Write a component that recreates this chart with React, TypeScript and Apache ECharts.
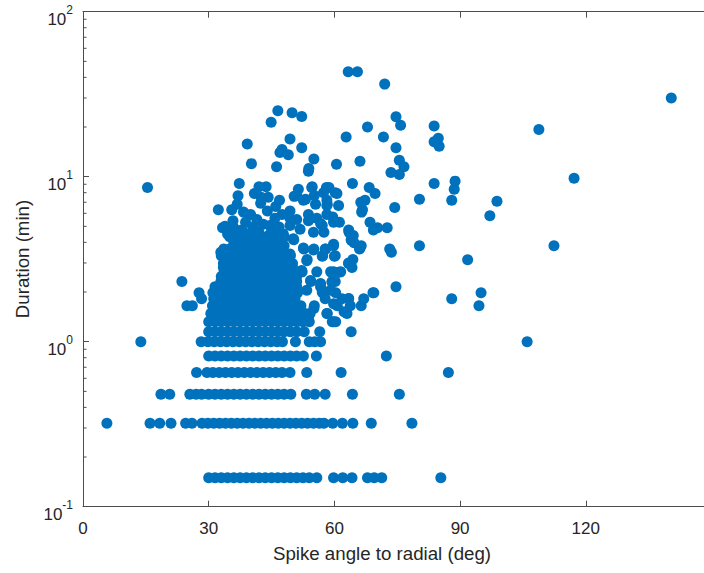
import React, { useEffect, useRef } from "react";
import * as echarts from "echarts";

const FONT = '"Liberation Sans", Helvetica, Arial, sans-serif';
const INK = "#262626";
const AXIS = "#4d4d4d";
const MARKER = "#0072BD";

// Axis ranges
const xRange = [0, 150];
const xStep = 30;
const yRange = [0.1, 100];
const yDecades = [0.1, 1, 10];
const minorSteps = [2, 3, 4, 5, 6, 7, 8, 9];

// Durations are logged in 10 s steps, so short events stack on fixed rows (min).
const rowDurations = [
  0.15, 0.32, 0.48, 0.65, 0.82, 1.0, 1.15, 1.32, 1.48, 1.65, 1.82, 1.98, 2.15,
  2.32, 2.48, 2.65, 2.82, 2.98, 3.15, 3.32, 3.48, 3.65, 3.82, 3.98, 4.15, 4.32,
];

// Spike angles (deg) of the events on each duration row.
const rowAngles: number[][] = [
  [30, 31.5, 33, 34.5, 36, 37.5, 39, 40.5, 42, 43.5, 45, 46.5, 48, 49.5, 51, 52.5, 54, 55.8, 59.8, 62, 64.2, 67.9, 69.5, 71.3, 85.4],
  [5.7, 16, 18.3, 21, 24.5, 26, 28.4, 29.8, 31.2, 32.6, 34, 35.4, 36.8, 38.2, 39.6, 41, 42.4, 43.8, 45.2, 46.6, 48, 49.4, 50.8, 52.2, 53.6, 55, 56.4, 57.5, 59.6, 61.9, 64.4, 68.8, 78.5],
  [18.6, 20.7, 25.5, 27, 28.3, 30, 31.5, 33, 34.5, 36, 37.5, 39, 40.5, 42, 43.5, 45, 46.5, 48, 49.6, 53.3, 55.3, 57.8, 64.3, 75.5],
  [27.1, 29.6, 31, 32.5, 34, 35.5, 37, 38.5, 40, 41.5, 43, 44.5, 46, 47.5, 49.4, 53.4, 61.6, 87.2],
  [30, 31.5, 33, 34.5, 36, 37.5, 39, 40.5, 42, 43.5, 45, 46.5, 48, 49.5, 51, 52.6, 55.7, 72.4],
  [13.8, 28.2, 29.8, 31.3, 32.8, 34.3, 35.8, 37.3, 38.8, 40.3, 41.8, 43.3, 44.8, 46.3, 47.6, 50.7, 54, 55.3, 56.7, 106],
  [30, 31.5, 33, 34.5, 36, 37.5, 39, 40.5, 42, 43.5, 45, 46.5, 48, 49.5, 51, 52.8, 56.5, 64],
  [30, 31.5, 33, 34.5, 36, 37.5, 39, 40.5, 42, 43.5, 45, 46.5, 48, 49.5, 51, 52.5, 54, 59.5, 60.3],
  [30.5, 32, 33.5, 35, 36.5, 38, 39.5, 41, 42.5, 44, 45.5, 47, 48.5, 50, 51.5, 53, 54.2, 58.2, 63],
  [24.8, 26.1, 30.9, 32.4, 33.9, 35.4, 36.9, 38.4, 39.9, 41.4, 42.9, 44.4, 45.9, 47.4, 48.8, 50.4, 52, 55.2, 60.7, 63.8, 66.4, 94.5],
  [28.3, 31.2, 32.7, 34.2, 35.7, 37.2, 38.7, 40.2, 41.7, 43.2, 44.7, 46.2, 47.7, 49.2, 50.6, 57.8, 61.8, 63.4, 67, 88],
  [27.7, 31, 32.5, 34, 35.5, 37, 38.5, 40, 41.5, 43, 44.5, 46, 47.5, 49.6, 51.2, 57.2, 60.3, 69.2, 95],
  [31.5, 33, 34.5, 36, 37.5, 39, 40.5, 42, 43.5, 45, 46.5, 48, 49.5, 51, 56.7, 74.7],
  [23.6, 32.9, 34.4, 35.9, 37.4, 38.9, 40.4, 41.9, 43.4, 44.9, 46.4, 48, 49.5, 51, 54.4, 59.5, 60.2],
  [33, 34.5, 36, 37.5, 39, 40.5, 42, 43.5, 45, 46.5, 48, 49.5, 51],
  [33.7, 35.2, 36.7, 38.2, 39.7, 41.2, 42.7, 44.2, 45.7, 47.2, 48.7, 50.2, 52.3, 55.8, 59.1, 59.8, 61.5],
  [33.5, 35, 36.5, 38, 39.5, 41, 42.5, 44, 45.5, 47, 48.5, 50, 64.2],
  [33.5, 35, 36.5, 38, 39.5, 41, 42.5, 44, 45.5, 47, 48.5, 50, 63.4],
  [34, 35.5, 37, 38.5, 40, 41.5, 43, 44.5, 46, 47.5, 49, 53.5, 64.4],
  [33, 34.5, 36, 37.5, 39, 40.5, 42, 43.5, 45, 46.5, 49.5, 57.2, 60.2],
  [32.9, 34.4, 35.9, 37.4, 38.9, 40.4, 41.9, 43.4, 44.9, 46.4, 47.9, 73.6],
  [33.6, 35, 36.5, 38, 39.5, 41, 42.5, 44, 45.5, 47, 52.7, 55.1, 57.9, 66, 73.2],
  [36, 37.5, 39, 40.5, 42, 43.5, 45, 46.5, 48, 59.8, 66.4, 80.3, 112.4],
  [36, 37.5, 39, 40.5, 42, 43.5, 45, 47, 64.7],
  [36, 38, 39.5, 41, 42.5, 44, 45.5, 47.5, 50.3, 64],
  [35, 36.5, 38, 39.5, 41, 42.5, 44, 46, 48],
];

// Longer events, [angle (deg), duration (min)].
const longEvents: [number, number][] = [
  [140.4, 30], [108.8, 19.3], [117.2, 9.8], [91.8, 3.14], [98.8, 7.1], [97.1, 5.8],
  [88, 7.2], [88.8, 9.4], [88.6, 8.4], [83.8, 9.1], [83.8, 20.3], [83.8, 16.3],
  [84.8, 17.1], [85, 15.3], [80.3, 7.3],
  [63.3, 43.2], [65.5, 43.2], [72, 36.4], [74.7, 23.1], [75.8, 20.5], [67.9, 20.0],
  [71.7, 17.4], [62.8, 17.4], [74.7, 15.0], [75.5, 12.6], [76.6, 11.5], [73.5, 10.6],
  [75.5, 10.3], [74.4, 6.5], [69.7, 7.9], [68.3, 8.6], [64.3, 9.1], [66.1, 12.4],
  [60.5, 11.9], [55.1, 12.8], [53.9, 11.2], [52.2, 23.2], [52.2, 15.0], [66.3, 7.0],
  [67.3, 7.2], [66.5, 6.1], [68.5, 5.3], [70.3, 4.9], [72.6, 4.9], [63.5, 4.6],
  [64.1, 4.1], [64.5, 4.4], [69.3, 4.75], [66.1, 3.7],
  [58.1, 8.6], [60.2, 8.0], [58.2, 6.7], [61, 6.7], [59.6, 5.7], [61.2, 5.3],
  [57.1, 5.06], [55.2, 7.7], [53.1, 7.3], [57.4, 8.0], [58.2, 7.2], [60.6, 7.9],
  [66.7, 6.3], [55.8, 5.6], [53.8, 5.9], [58.2, 5.9], [49.4, 5.6], [63.4, 4.75],
  [60, 3.3], [63.4, 3.0], [61, 2.64], [59.4, 2.3], [57.1, 2.0], [69.4, 1.98],
  [46.5, 25.1], [49.9, 24.4], [44.9, 21.4], [39.2, 15.8], [49.4, 16.9], [47.5, 14.6],
  [49, 13.6], [47, 14.0], [40.2, 12.0], [46.2, 11.5], [53.8, 10.8], [37.3, 9.1],
  [42, 8.7], [43.7, 8.7], [54.6, 8.6], [58.7, 8.6], [37, 7.67], [40.9, 7.9],
  [42.5, 7.5], [44.2, 7.5], [46.9, 7.2], [51, 7.67], [50.4, 7.6], [51.4, 8.4],
  [54.7, 8.7], [32.3, 6.3], [35.5, 6.3], [40, 5.9], [42.4, 6.9], [33.9, 5.0],
  [37.9, 4.75], [43, 5.15], [44.6, 5.06], [46.2, 4.75], [47.8, 4.5], [15.4, 8.6],
  [33.3, 4.9],
  [34.5, 4.5], [37, 4.55], [39.5, 4.5], [42, 4.6], [44.5, 4.45], [36, 4.9],
  [40.5, 4.95], [46.8, 4.95], [35.8, 5.4], [38.8, 5.3], [41.5, 5.5], [45.8, 5.6],
  [47.5, 5.9], [38.3, 6.1], [44, 6.2], [46, 6.6], [36.8, 6.8],
  [52.6, 7.2], [55.5, 6.8], [58.3, 6.8], [49.4, 6.2], [51, 5.5], [53.8, 5.4],
  [56.7, 5.2], [59.8, 5.3], [51.8, 4.8], [55, 4.6], [57.5, 4.6], [49.4, 5.06],
  [50.2, 4.2], [52.6, 3.7], [49.4, 3.4], [55, 3.6], [57.8, 3.65], [59.8, 3.9],
  [57.1, 3.3], [53.4, 3.1], [52.2, 2.7], [54.3, 2.35], [53.4, 2.05], [59.1, 2.05],
  [59.8, 1.7], [58.3, 1.48], [59.8, 1.32], [51.8, 1.55], [53.8, 1.4], [48.6, 1.66],
  [50.2, 1.73], [49.4, 1.9], [63.4, 1.83], [62.3, 1.52], [55.1, 1.59], [56.7, 2.25],
];

const xTitle = "Spike angle to radial (deg)";
const yTitle = "Duration (min)";

function buildPoints(): [number, number][] {
  const pts: [number, number][] = [];
  rowDurations.forEach((d, i) => {
    rowAngles[i].forEach((a) => pts.push([a, d]));
  });
  longEvents.forEach((p) => pts.push([p[0], p[1]]));
  return pts;
}

export default function App() {
  const ref = useRef<HTMLDivElement>(null);

  useEffect(() => {
    if (!ref.current) return;
    const chart = echarts.init(ref.current, null, { renderer: "svg" });

    const axisLine = { show: true, onZero: false, lineStyle: { color: AXIS, width: 1 } };
    const axisTick = { show: true, inside: true, length: 6, lineStyle: { color: AXIS, width: 1 } };

    chart.setOption({
      animation: false,
      backgroundColor: "#ffffff",
      grid: { left: 83, right: 8.5, top: 11.7, bottom: 66.3, containLabel: false },
      xAxis: [
        {
          type: "value",
          position: "bottom",
          min: xRange[0],
          max: xRange[1],
          interval: xStep,
          axisLine,
          axisTick,
          splitLine: { show: false },
          axisLabel: {
            show: true,
            margin: 13,
            fontSize: 17,
            fontFamily: FONT,
            color: INK,
            showMaxLabel: false,
          },
        },
        {
          type: "value",
          position: "top",
          min: xRange[0],
          max: xRange[1],
          interval: xStep,
          axisLine,
          axisTick,
          splitLine: { show: false },
          axisLabel: { show: false },
        },
      ],
      yAxis: [
        {
          type: "log",
          logBase: 10,
          position: "left",
          min: yRange[0],
          max: yRange[1],
          axisLine,
          axisTick,
          splitLine: { show: false },
          minorTick: { show: false },
          axisLabel: {
            show: true,
            margin: 10,
            padding: [8, 0, 0, 0],
            formatter: (v: number) => `{b|10}{s|${Math.round(Math.log10(v))}}`,
            rich: {
              b: { fontSize: 17, fontFamily: FONT, color: INK, lineHeight: 24, verticalAlign: "bottom" },
              s: { fontSize: 12, fontFamily: FONT, color: INK, lineHeight: 14, verticalAlign: "top" },
            },
          },
        },
      ],
      series: [
        {
          type: "scatter",
          xAxisIndex: 0,
          yAxisIndex: 0,
          symbol: "circle",
          symbolSize: 11,
          silent: true,
          itemStyle: { color: MARKER, opacity: 1, borderWidth: 0 },
          data: buildPoints(),
        },
      ],
    });

    // Minor ticks of the log axis, placed through the axis scale.
    const x0 = chart.convertToPixel({ xAxisIndex: 0 }, xRange[0]) as number;
    const minor: any[] = [];
    yDecades.forEach((d) => {
      minorSteps.forEach((m) => {
        const y = chart.convertToPixel({ yAxisIndex: 0 }, d * m) as number;
        minor.push({
          type: "line",
          silent: true,
          shape: { x1: x0, y1: y, x2: x0 + 3.5, y2: y },
          style: { stroke: AXIS, lineWidth: 1 },
        });
      });
    });

    chart.setOption({
      graphic: [
        ...minor,
        {
          type: "text",
          x: 382,
          y: 553,
          silent: true,
          style: {
            text: xTitle,
            fontSize: 18.7,
            fontFamily: FONT,
            fill: INK,
            align: "center",
            verticalAlign: "middle",
          },
        },
        {
          type: "text",
          x: 22,
          y: 259,
          rotation: Math.PI / 2,
          silent: true,
          style: {
            text: yTitle,
            fontSize: 18.7,
            fontFamily: FONT,
            fill: INK,
            align: "center",
            verticalAlign: "middle",
          },
        },
      ],
    });

    return () => chart.dispose();
  }, []);

  return (
    <div
      style={{
        position: "fixed",
        left: 0,
        top: 0,
        width: 704,
        height: 573,
        overflow: "hidden",
        background: "#ffffff",
      }}
    >
      <div ref={ref} style={{ width: 720, height: 573 }} />
    </div>
  );
}
